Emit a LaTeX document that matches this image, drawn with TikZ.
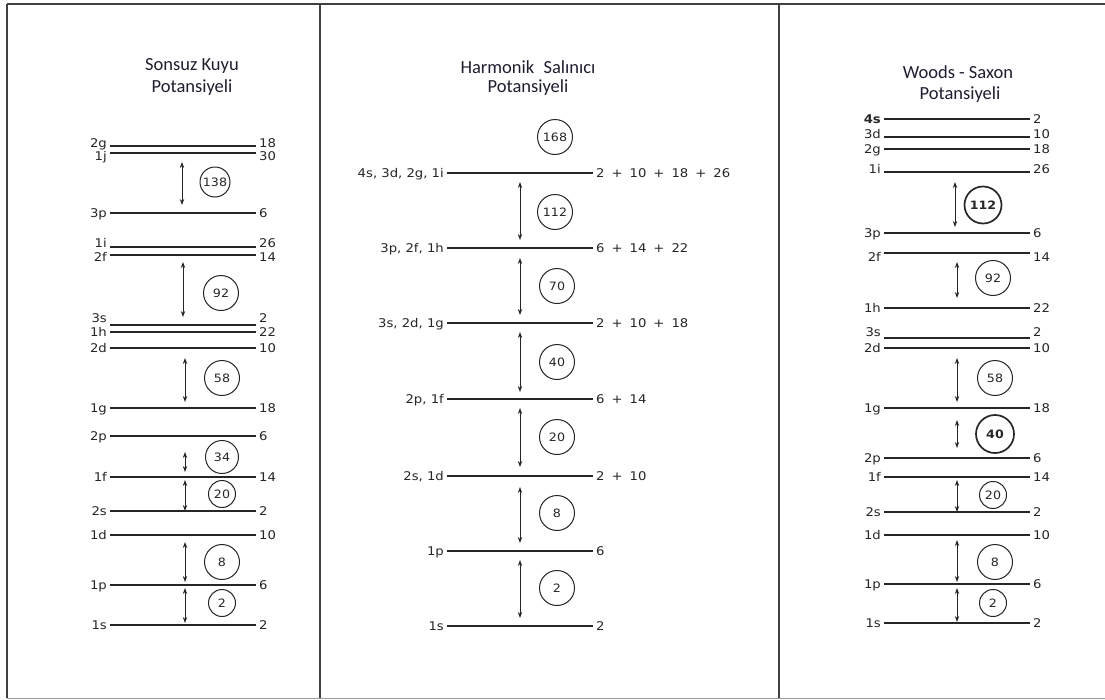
\documentclass[tikz,border=0pt]{standalone}
\usepackage{fontspec}
\setmainfont{Liberation Sans}
\newfontfamily\titlefont{Carlito}
\newfontfamily\labfont[FakeStretch=1.1]{DejaVu Sans}
\usetikzlibrary{arrows.meta}
\definecolor{ink}{HTML}{262626}
\definecolor{titleink}{HTML}{1E1E30}
\definecolor{framegray}{HTML}{9A9A9A}
\tikzset{
  lvl/.style={line width=1.4pt, draw=ink},
  lab/.style={inner sep=0pt, text height=8.6pt, text depth=0pt,
    font=\labfont\fontsize{12}{13}\selectfont, text=ink},
  ll/.style={lab, anchor=east, xshift=-3pt},
  rl/.style={lab, anchor=west, xshift=3pt},
  gaparrow/.style={line width=0.9pt, draw=ink,
    {Stealth[length=6pt,width=4.4pt]}-{Stealth[length=6pt,width=4.4pt]}},
  circ/.style={circle, draw=ink, line width=1pt, inner sep=0pt,
    font=\labfont\fontsize{11.5}{12}\selectfont, text=ink},
  boldcirc/.style={circ, line width=1.7pt, font=\labfont\bfseries\fontsize{11.5}{12}\selectfont},
  title/.style={font=\titlefont\fontsize{18.5}{20}\selectfont, text=titleink, inner sep=0pt},
  frameline/.style={line width=1.2pt, draw=black!75},
}
% #1 label yshift, #2 name, #3 x1, #4 x2, #5 y, #6 left text, #7 right text
\newcommand\lev[7][0]{%
  \coordinate (#2-l) at (#3,#5);
  \coordinate (#2-r) at (#4,#5);
  \draw[lvl] (#2-l) -- (#2-r);
  \node[ll, yshift=#1pt] (#2-L) at (#2-l) {#6};
  \node[rl, yshift=#1pt] (#2-R) at (#2-r) {#7};}
% #1 name, #2 x, #3 y top, #4 y bottom
\newcommand\gp[4]{%
  \coordinate (#1-t) at (#2,#3);
  \coordinate (#1-b) at (#2,#4);
  \draw[gaparrow] (#1-t) -- (#1-b);}
\newcommand\pp{\hspace{7pt}+\hspace{7pt}}
\begin{document}
\begin{tikzpicture}[x=1pt,y=-1pt]
\useasboundingbox (0,0) rectangle (1105,699);
\fill[white] (0,0) rectangle (1105,699);
% frame
\coordinate (f-tl) at (7,4);
\coordinate (f-tr) at (1105,4);
\coordinate (f-bl) at (7,698);
\coordinate (f-br) at (1105,698);
\coordinate (d1-t) at (320,4);
\coordinate (d1-b) at (320,698);
\coordinate (d2-t) at (779,4);
\coordinate (d2-b) at (779,698);
\draw[framegray, line width=1pt] (f-bl) -- (f-br);
\draw[frameline] (f-tl) -- (f-tr);
\draw[frameline] (f-tl) -- (f-bl);
\draw[frameline] (d1-t) -- (d1-b);
\draw[frameline, line width=2.2pt] (d2-t) -- (d2-b);

% ---------------- left panel: Sonsuz Kuyu
\node[title] (t1a) at (192,66) {Sonsuz Kuyu};
\node[title] (t1b) at (192,88) {Potansiyeli};
\lev[3]{L2g}{110}{256}{146}{2g}{18}
\lev[-3]{L1j}{110}{256}{153}{1j}{30}
\lev{L3p}{110}{256}{213}{3p}{6}
\lev[4]{L1i}{110}{256}{247}{1i}{26}
\lev[-2]{L2f}{110}{256}{255}{2f}{14}
\lev[7]{L3s}{110}{256}{325}{3s}{2}
\lev{L1h}{110}{256}{332}{1h}{22}
\lev{L2d}{110}{256}{348}{2d}{10}
\lev{L1g}{110}{256}{408}{1g}{18}
\lev{L2p}{110}{256}{436}{2p}{6}
\lev{L1f}{110}{256}{477}{1f}{14}
\lev{L2s}{110}{256}{511}{2s}{2}
\lev{L1d}{110}{256}{535}{1d}{10}
\lev{L1p}{110}{256}{585}{1p}{6}
\lev{L1s}{110}{256}{625}{1s}{2}
\gp{La138}{182}{162}{205}
\gp{La92}{183}{262}{317}
\gp{La58}{185}{358}{402}
\gp{La34}{185}{452}{472}
\gp{La20}{185}{480}{511}
\gp{La8}{185}{542}{582}
\gp{La2}{185}{588}{623}
\node[circ, minimum size=30pt] (Lc138) at (215,182) {138};
\node[circ, minimum size=35pt] (Lc92) at (221,293) {92};
\node[circ, minimum size=35pt] (Lc58) at (222,378) {58};
\node[circ, minimum size=33pt] (Lc34) at (222,457) {34};
\node[circ, minimum size=27pt] (Lc20) at (222,494) {20};
\node[circ, minimum size=35pt] (Lc8) at (222,562) {8};
\node[circ, minimum size=27pt] (Lc2) at (222,603) {2};

% ---------------- middle panel: Harmonik Salinici
\node[title] (t2a) at (528,67) {Harmonik\hspace{5pt} Salınıcı};
\node[title] (t2b) at (528,88) {Potansiyeli};
\lev{M1}{447}{593}{173}{4s, 3d, 2g, 1i}{2\pp 10\pp 18\pp 26}
\lev{M2}{447}{593}{248}{3p, 2f, 1h}{6\pp 14\pp 22}
\lev{M3}{447}{593}{323}{3s, 2d, 1g}{2\pp 10\pp 18}
\lev{M4}{447}{593}{399}{2p, 1f}{6\pp 14}
\lev{M5}{447}{593}{476}{2s, 1d}{2\pp 10}
\lev{M6}{447}{593}{551}{1p}{6}
\lev{M7}{447}{593}{626}{1s}{2}
\gp{Ma112}{520}{182}{240}
\gp{Ma70}{520}{258}{315}
\gp{Ma40}{520}{332}{392}
\gp{Ma20}{520}{408}{467}
\gp{Ma8}{520}{487}{543}
\gp{Ma2}{520}{560}{618}
\node[circ, minimum size=35pt] (Mc168) at (555,137) {168};
\node[circ, minimum size=35pt] (Mc112) at (555,212) {112};
\node[circ, minimum size=35pt] (Mc70) at (557,286) {70};
\node[circ, minimum size=35pt] (Mc40) at (557,362) {40};
\node[circ, minimum size=35pt] (Mc20) at (557,437) {20};
\node[circ, minimum size=35pt] (Mc8) at (557,513) {8};
\node[circ, minimum size=35pt] (Mc2) at (557,588) {2};

% ---------------- right panel: Woods-Saxon
\node[title] (t3a) at (958,72) {Woods - Saxon};
\node[title] (t3b) at (960,95) {Potansiyeli};
\lev{R4s}{884}{1030}{119}{\bfseries 4s}{2}
\lev[3]{R3d}{884}{1030}{137}{3d}{10}
\lev{R2g}{884}{1030}{149}{2g}{18}
\lev[3]{R1i}{884}{1030}{172}{1i\hspace{10pt}}{26}
\lev{R3p}{884}{1030}{233}{3p}{6}
\lev[-4]{R2f}{884}{1030}{253}{2f\hspace{6pt}}{14}
\lev{R1h}{884}{1030}{308}{1h}{22}
\lev[6]{R3s}{884}{1030}{338}{3s\hspace{5pt}}{2}
\lev{R2d}{884}{1030}{348}{2d}{10}
\lev{R1g}{884}{1030}{408}{1g}{18}
\lev{R2p}{884}{1030}{458}{2p}{6}
\lev{R1f}{884}{1030}{477}{1f}{14}
\lev{R2s}{884}{1030}{512}{2s}{2}
\lev{R1d}{884}{1030}{535}{1d}{10}
\lev{R1p}{884}{1030}{584}{1p}{6}
\lev{R1s}{884}{1030}{623}{1s}{2}
\gp{Ra112}{955}{182}{227}
\gp{Ra92}{957}{262}{298}
\gp{Ra58}{957}{358}{402}
\gp{Ra40}{957}{420}{448}
\gp{Ra20}{957}{480}{512}
\gp{Ra8}{957}{540}{582}
\gp{Ra2}{957}{588}{622}
\node[boldcirc, minimum size=37pt] (Rc112) at (983,205) {112};
\node[circ, minimum size=35pt] (Rc92) at (993,278) {92};
\node[circ, minimum size=35pt] (Rc58) at (995,378) {58};
\node[boldcirc, minimum size=38pt] (Rc40) at (995,434) {40};
\node[circ, minimum size=27pt] (Rc20) at (993,495) {20};
\node[circ, minimum size=35pt] (Rc8) at (995,562) {8};
\node[circ, minimum size=27pt] (Rc2) at (993,603) {2};
\end{tikzpicture}
\end{document}
